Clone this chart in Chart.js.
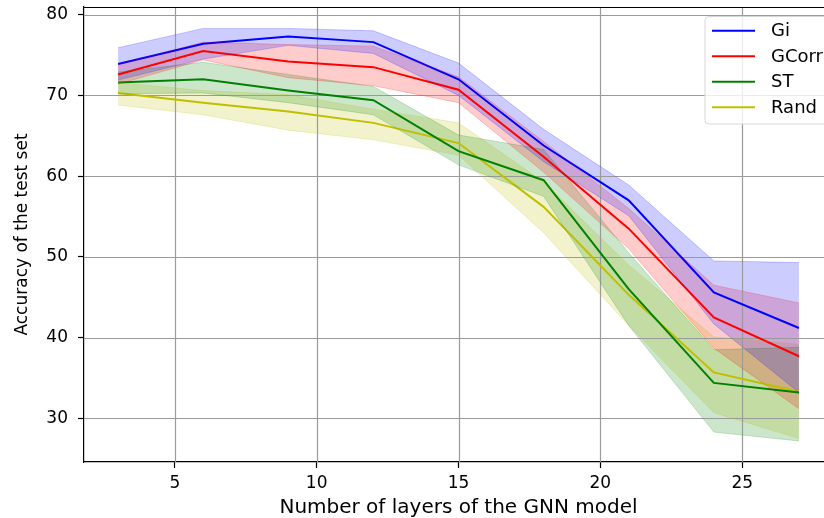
<!DOCTYPE html>
<html>
<head>
<meta charset="utf-8">
<script src="https://cdn.jsdelivr.net/npm/chart.js@4.4.1/dist/chart.umd.min.js"></script>
<style>
  html, body { margin: 0; padding: 0; background: #fff; overflow: hidden; width: 824px; height: 518px; }
  #c { display: block; }
</style>
</head>
<body>
<canvas id="c" width="840" height="518" style="width:840px;height:518px"></canvas>
<script>
// ---- data ----
const layers = [3, 6, 9, 12, 15, 18, 21, 24, 27];

const giMean  = [73.9, 76.4, 77.3, 76.6, 72.0, 63.8, 57.0, 45.6, 41.2];
const giUpper = [75.9, 78.3, 78.3, 78.0, 74.0, 65.8, 58.9, 49.5, 49.3];
const giLower = [71.9, 74.5, 76.2, 75.2, 70.0, 61.8, 55.1, 41.7, 33.2];

const gcorrMean  = [72.6, 75.5, 74.2, 73.5, 70.7, 62.4, 53.5, 42.5, 37.7];
const gcorrUpper = [73.8, 76.6, 76.3, 76.1, 72.3, 64.3, 56.0, 46.5, 44.3];
const gcorrLower = [71.4, 74.4, 72.2, 71.2, 69.1, 60.5, 51.0, 38.7, 31.2];

const stMean  = [71.6, 72.0, 70.6, 69.4, 63.1, 59.5, 46.0, 34.4, 33.2];
const stUpper = [72.9, 74.1, 72.6, 71.1, 65.1, 63.3, 50.5, 38.5, 38.8];
const stLower = [70.2, 70.3, 69.1, 67.6, 61.4, 57.5, 41.5, 28.3, 27.2];

const randMean  = [70.3, 69.1, 68.0, 66.6, 64.1, 56.2, 45.3, 35.7, 33.3];
const randUpper = [71.6, 70.6, 70.1, 68.3, 66.6, 59.3, 49.0, 40.1, 39.2];
const randLower = [68.8, 67.6, 65.7, 64.5, 62.6, 53.0, 41.5, 30.7, 27.5];

const seriesLabels = ['Gi', 'GCorr', 'ST', 'Rand'];
const xTickStep = 5;
const yTickStep = 10;
const xTitle = 'Number of layers of the GNN model';
const yTitle = 'Accuracy of the test set';

// ---- styles ----
const lineColors = ['#0000ff', '#ff0000', '#008000', '#bfbf00'];
const fillColors = ['rgba(0,0,255,0.2)', 'rgba(255,0,0,0.2)', 'rgba(0,128,0,0.2)', 'rgba(191,191,0,0.2)'];
const FONT = "'DejaVu Sans', sans-serif";

const pts = arr => arr.map((v, i) => ({ x: layers[i], y: v }));
const series = [
  [giMean, giUpper, giLower],
  [gcorrMean, gcorrUpper, gcorrLower],
  [stMean, stUpper, stLower],
  [randMean, randUpper, randLower]
];

const datasets = [];
// shaded bands (upper filled down to lower)
series.forEach((s, k) => {
  datasets.push({
    label: seriesLabels[k] + ' band', isBand: true,
    data: pts(s[1]), borderColor: fillColors[k], borderWidth: 1,
    backgroundColor: fillColors[k], pointRadius: 0, fill: '+1', tension: 0
  });
  datasets.push({
    label: seriesLabels[k] + ' low', isBand: true,
    data: pts(s[2]), borderColor: fillColors[k], borderWidth: 1,
    pointRadius: 0, fill: false, tension: 0
  });
});
// mean lines
series.forEach((s, k) => {
  datasets.push({
    label: seriesLabels[k], isBand: false,
    data: pts(s[0]), borderColor: lineColors[k], borderWidth: 2,
    pointRadius: 0, fill: false, tension: 0
  });
});

const gridOver = {
  id: 'gridOver',
  beforeDatasetsDraw(chart) {
    const { ctx, chartArea: a, scales: { x, y } } = chart;
    ctx.save();
    ctx.strokeStyle = '#9a9a9a';
    ctx.lineWidth = 1.2;
    ctx.beginPath();
    x.ticks.forEach(t => {
      const px = Math.round(x.getPixelForValue(t.value)) + 0.5;
      ctx.moveTo(px, a.top); ctx.lineTo(px, a.bottom);
    });
    y.ticks.forEach(t => {
      const py = Math.round(y.getPixelForValue(t.value)) + 0.5;
      ctx.moveTo(a.left, py); ctx.lineTo(a.right, py);
    });
    ctx.stroke();
    ctx.restore();
  },
  afterDraw(chart) {
    const { ctx, chartArea: a } = chart;
    ctx.save();
    ctx.strokeStyle = '#000';
    ctx.lineWidth = 1.2;
    ctx.beginPath();
    ctx.moveTo(a.left, a.top + 0.5); ctx.lineTo(a.right, a.top + 0.5);
    ctx.lineTo(a.right, a.bottom);
    ctx.stroke();
    // legend box
    const lx = 705, ly = 16.5, lw = 160, lh = 107.5, r = 4;
    ctx.beginPath();
    ctx.moveTo(lx + r, ly);
    ctx.lineTo(lx + lw - r, ly); ctx.arcTo(lx + lw, ly, lx + lw, ly + r, r);
    ctx.lineTo(lx + lw, ly + lh - r); ctx.arcTo(lx + lw, ly + lh, lx + lw - r, ly + lh, r);
    ctx.lineTo(lx + r, ly + lh); ctx.arcTo(lx, ly + lh, lx, ly + lh - r, r);
    ctx.lineTo(lx, ly + r); ctx.arcTo(lx, ly, lx + r, ly, r);
    ctx.closePath();
    ctx.fillStyle = 'rgba(255,255,255,0.8)';
    ctx.fill();
    ctx.strokeStyle = '#d6d6d6';
    ctx.lineWidth = 1;
    ctx.stroke();
    const mains = chart.data.datasets.filter(d => !d.isBand);
    ctx.font = '18px ' + FONT;
    ctx.textBaseline = 'middle';
    ctx.textAlign = 'left';
    mains.forEach((d, i) => {
      const yy = 30.7 + i * 25.5;
      ctx.strokeStyle = d.borderColor;
      ctx.lineWidth = 2;
      ctx.beginPath();
      ctx.moveTo(712, yy); ctx.lineTo(755, yy);
      ctx.stroke();
      ctx.fillStyle = '#000';
      ctx.fillText(d.label, 771, yy + 1);
    });
    ctx.restore();
  }
};

new Chart(document.getElementById('c'), {
  type: 'line',
  data: { datasets },
  options: {
    responsive: false,
    animation: false,
    devicePixelRatio: 1,
    layout: { padding: { top: 7, right: 7, left: 0, bottom: 0 } },
    plugins: {
      legend: { display: false },
      tooltip: { enabled: false },
      filler: { drawTime: 'beforeDatasetsDraw' }
    },
    scales: {
      x: {
        type: 'linear', min: 1.8, max: 28.2,
        ticks: { stepSize: xTickStep, includeBounds: false, color: '#000', padding: 5,
                 font: { family: FONT, size: 17 } },
        grid: { drawOnChartArea: false, tickLength: 6, color: '#000', tickWidth: 1.2 },
        border: { display: true, color: '#000', width: 1.2 },
        title: { display: true, text: xTitle, color: '#000',
                 font: { family: FONT, size: 20, lineHeight: 1.0 }, padding: { top: 0, bottom: 0 } },
        afterFit(s) { s.height = 56; s.paddingLeft = 0; s.paddingRight = 0; }
      },
      y: {
        type: 'linear', min: 24.6, max: 80.95,
        ticks: { stepSize: yTickStep, includeBounds: false, color: '#000', padding: 10,
                 font: { family: FONT, size: 17 } },
        grid: { drawOnChartArea: false, tickLength: 6, color: '#000', tickWidth: 1.2 },
        border: { display: true, color: '#000', width: 1.2 },
        title: { display: true, text: yTitle, color: '#000',
                 font: { family: FONT, size: 17, lineHeight: 1.2 }, padding: { top: 12, bottom: 0 } },
        afterFit(s) { s.width = 84; s.paddingTop = 0; s.paddingBottom = 0; }
      }
    }
  },
  plugins: [gridOver]
});
</script>
</body>
</html>
